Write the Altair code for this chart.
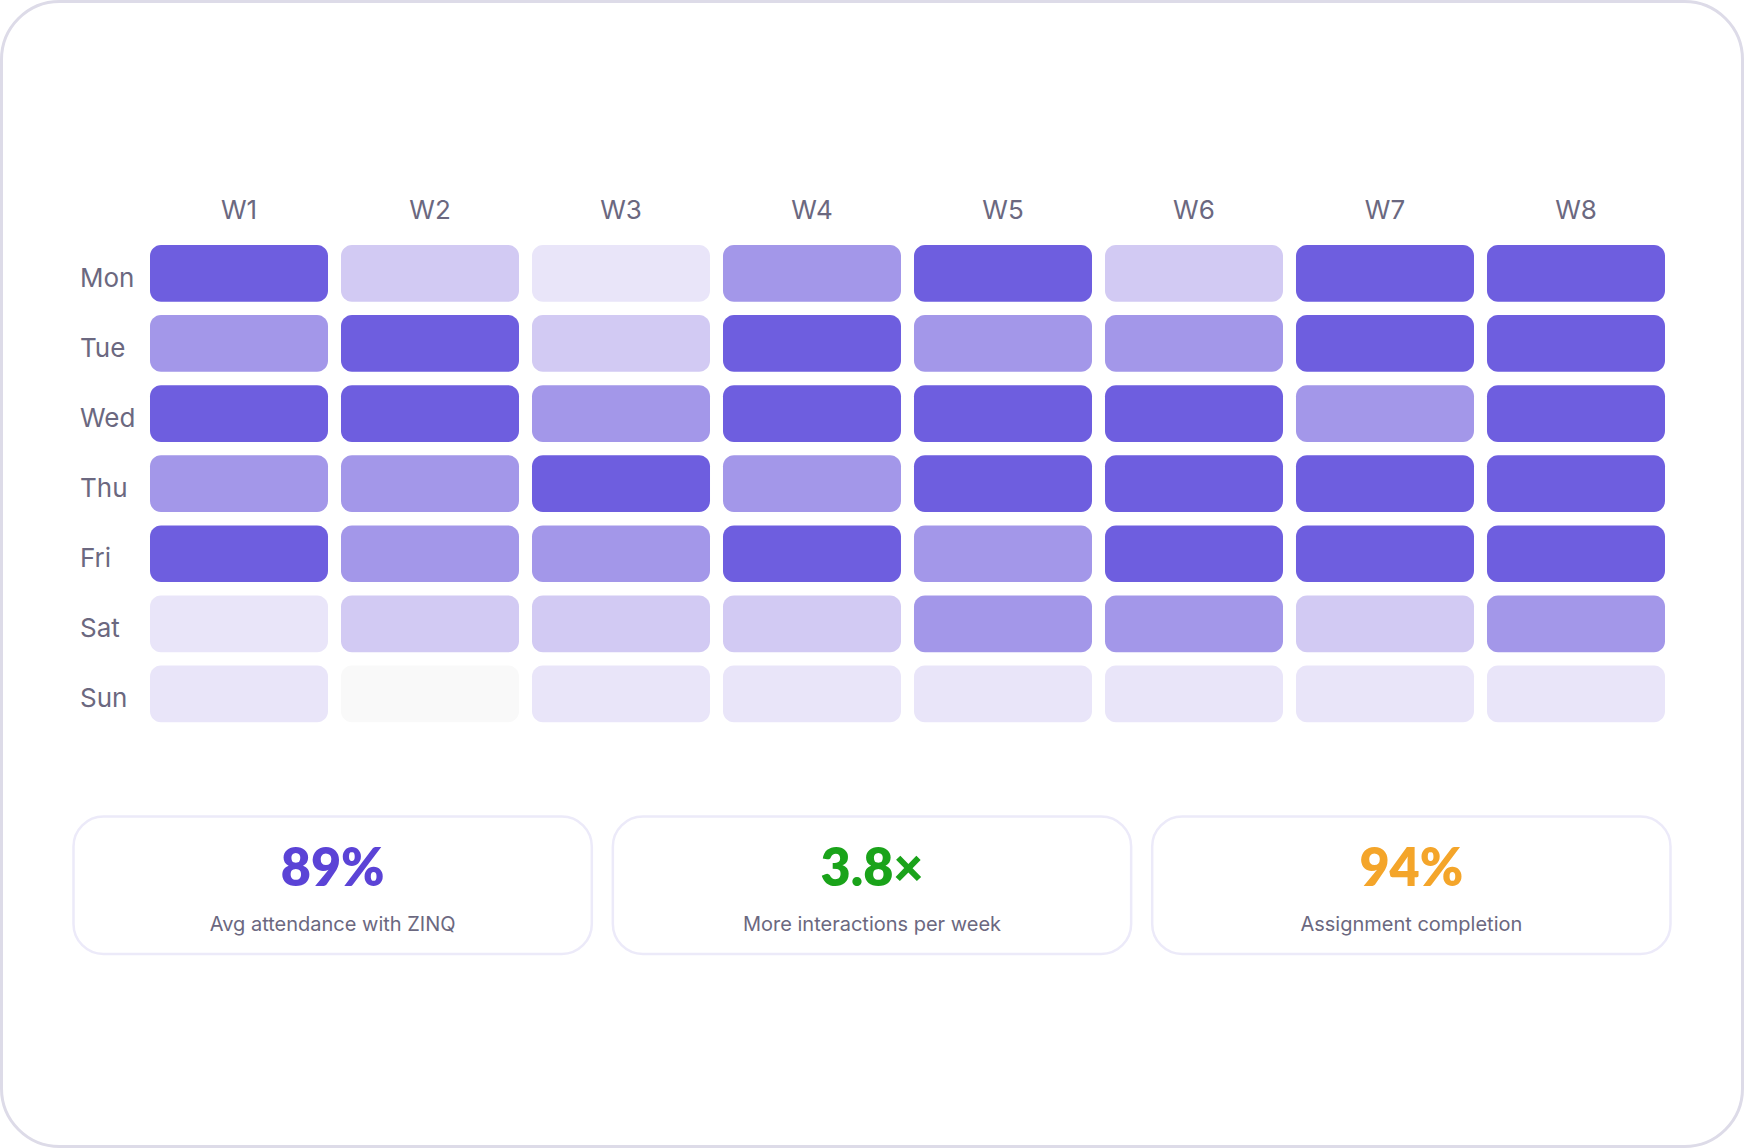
import altair as alt
import pandas as pd

weeks = ["W1", "W2", "W3", "W4", "W5", "W6", "W7", "W8"]
days = ["Mon", "Tue", "Wed", "Thu", "Fri", "Sat", "Sun"]
# activity level per day (rows) and week (columns), 0 = none .. 4 = high
mon = [4, 2, 1, 3, 4, 2, 4, 4]
tue = [3, 4, 2, 4, 3, 3, 4, 4]
wed = [4, 4, 3, 4, 4, 4, 3, 4]
thu = [3, 3, 4, 3, 4, 4, 4, 4]
fri = [4, 3, 3, 4, 3, 4, 4, 4]
sat = [1, 2, 2, 2, 3, 3, 2, 3]
sun = [1, 0, 1, 1, 1, 1, 1, 1]
level_colors = ["#F9F9F9", "#E9E5F9", "#D2CAF3", "#A397E9", "#6E5EDF"]

card_ids = ["a", "b", "c"]
card_values = ["89%", "3.8×", "94%"]
card_labels = ["Avg attendance with ZINQ", "More interactions per week", "Assignment completion"]
card_colors = ["#5B43D6", "#1AA31A", "#F4A52A"]

rows = [mon, tue, wed, thu, fri, sat, sun]
heat_df = pd.DataFrame(
    [{"day": d, "week": w, "level": rows[i][j]} for i, d in enumerate(days) for j, w in enumerate(weeks)]
)
week_df = pd.DataFrame({"week": weeks})
day_df = pd.DataFrame({"day": days})
card_df = pd.DataFrame({"card": card_ids, "value": card_values, "label": card_labels, "color": card_colors})

FONT = "Inter"
GREY = "#6B6880"

xs = alt.Scale(type="band", domain=weeks, range=[150, 1665], paddingInner=0.068, paddingOuter=0)
ys = alt.Scale(type="band", domain=days, range=[245, 722.3], paddingInner=0.191, paddingOuter=0)
cs = alt.Scale(type="band", domain=card_ids, range=[73.5, 1670.5], paddingInner=0.039, paddingOuter=0)

frame = alt.Chart(pd.DataFrame({"a": [0]})).mark_rect(
    fill="white", stroke="#DDDBE8", strokeWidth=3, cornerRadius=58
).encode(x=alt.value(1.5), x2=alt.value(1742.5), y=alt.value(1.5), y2=alt.value(1146.5))

cells = alt.Chart(heat_df).mark_rect(cornerRadius=11).encode(
    x=alt.X("week:N", scale=xs, axis=None, sort=weeks),
    y=alt.Y("day:N", scale=ys, axis=None, sort=days),
    color=alt.Color("level:O", scale=alt.Scale(domain=[0, 1, 2, 3, 4], range=level_colors), legend=None),
)

week_labels = alt.Chart(week_df).mark_text(
    font=FONT, fontSize=26, color=GREY, baseline="alphabetic", align="center"
).encode(
    x=alt.X("week:N", scale=xs, axis=None, sort=weeks, bandPosition=0.5),
    y=alt.value(219),
    text="week:N",
)

day_labels = alt.Chart(day_df).mark_text(
    font=FONT, fontSize=26, color=GREY, baseline="alphabetic", align="left", dy=13.5
).encode(
    x=alt.value(80),
    y=alt.Y("day:N", scale=ys, axis=None, sort=days, bandPosition=0.5),
    text="day:N",
)

cards = alt.Chart(card_df).mark_rect(
    fill="white", stroke="#ECEAF9", strokeWidth=2.5, cornerRadius=30
).encode(
    x=alt.X("card:N", scale=cs, axis=None),
    y=alt.value(816.5),
    y2=alt.value(954),
)

card_nums = alt.Chart(card_df).mark_text(
    font="Lato", fontSize=52, fontWeight=800, baseline="alphabetic", align="center"
).encode(
    x=alt.X("card:N", scale=cs, axis=None, bandPosition=0.5),
    y=alt.value(886),
    text="value:N",
    color=alt.Color("color:N", scale=None),
)

card_text = alt.Chart(card_df).mark_text(
    font=FONT, fontSize=20, color=GREY, baseline="alphabetic", align="center"
).encode(
    x=alt.X("card:N", scale=cs, axis=None, bandPosition=0.5),
    y=alt.value(931),
    text="label:N",
)

chart = alt.layer(frame, cells, week_labels, day_labels, cards, card_nums, card_text).resolve_scale(
    x="independent", y="independent", color="independent"
).properties(
    width=1744, height=1148, padding=0, autosize=alt.AutoSizeParams(type="none"), background="white"
).configure_view(stroke="transparent")

chart.save("out.html", embed_options={"renderer": "svg", "actions": False})
